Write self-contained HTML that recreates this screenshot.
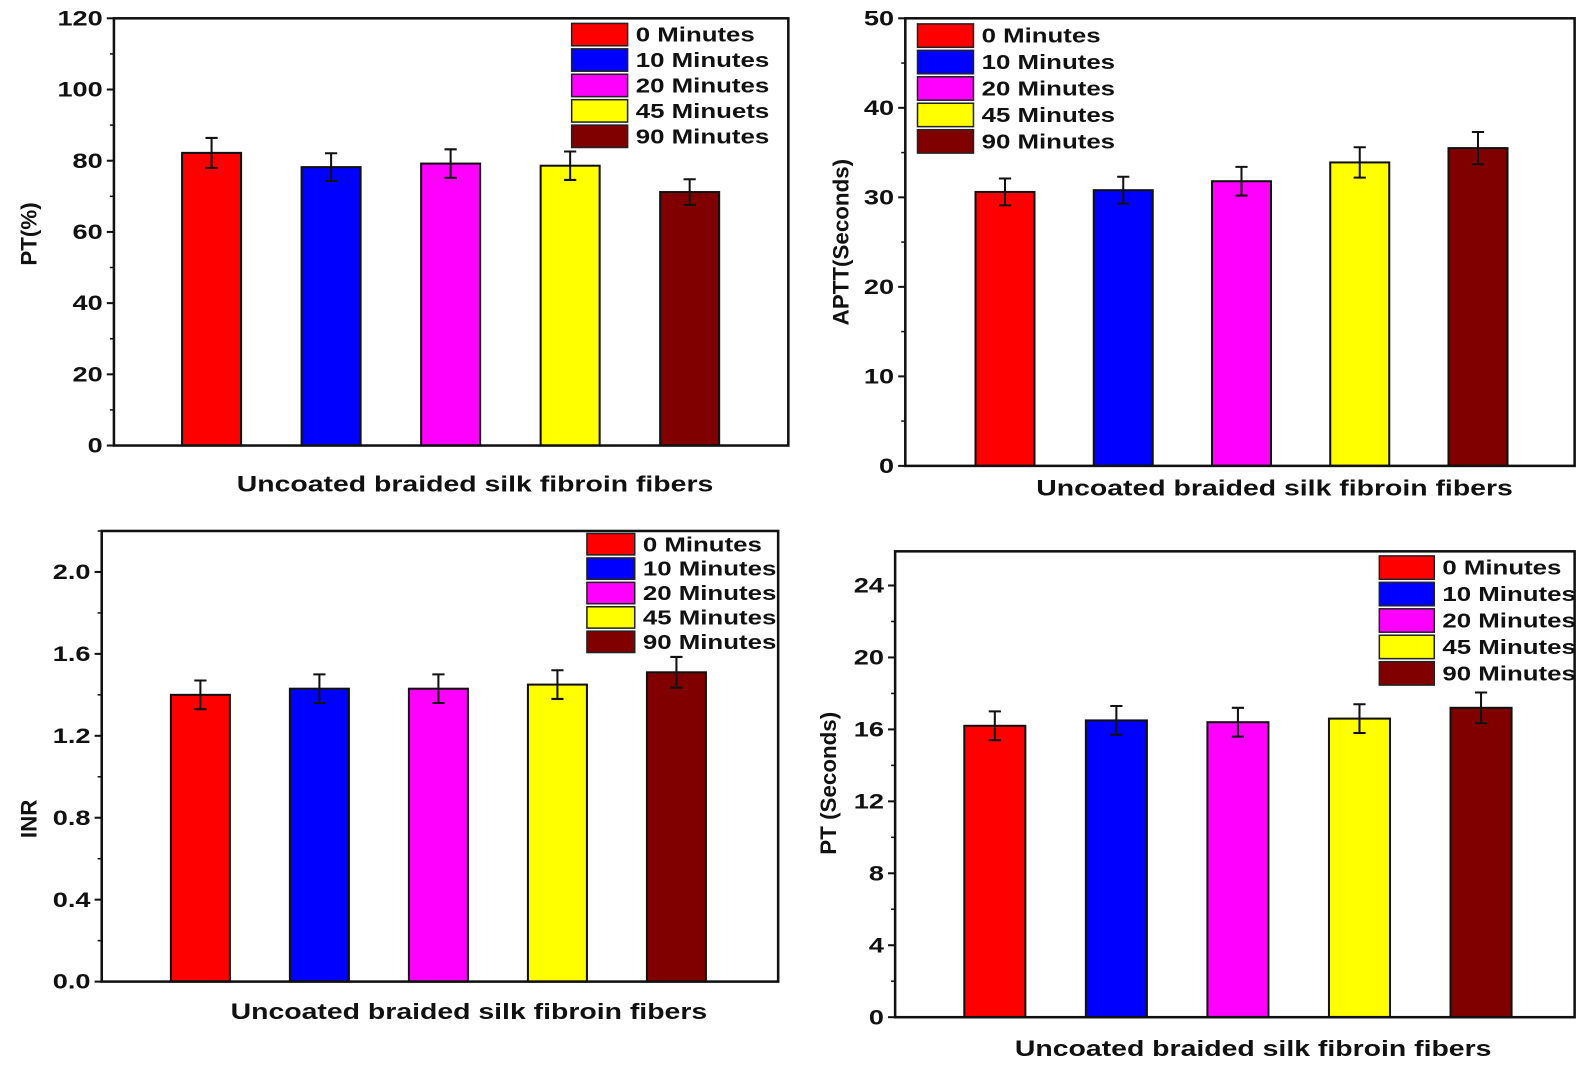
<!DOCTYPE html>
<html><head><meta charset="utf-8">
<style>
html,body{margin:0;padding:0;background:#fff;}
svg{display:block;font-family:"Liberation Sans",Arial,sans-serif;font-weight:bold;}
</style></head>
<body>
<svg id="fig" width="1595" height="1072" viewBox="0 0 1595 1072"><g id="root" transform="scale(1.0172)"></g></svg>
<script>
const categories = ["0 Minutes","10 Minutes","20 Minutes","45 Minutes","90 Minutes"];
const legendLabelsA = ["0 Minutes","10 Minutes","20 Minutes","45 Minuets","90 Minutes"];
const legendLabelsD = ["0 Minutes","10 Minutes","20 Minutes","45 Minutes","90 Minutes"];
const colors = ["#ff0000","#0000ff","#ff00ff","#ffff00","#800000"];
const ptPercentValues = [82.2, 78.2, 79.2, 78.6, 71.2];
const ptPercentErrors = [4.2, 3.9, 4.0, 4.0, 3.6];
const ptPercentTicks = [0,20,40,60,80,100,120];
const apttValues = [30.6, 30.8, 31.8, 33.9, 35.5];
const apttErrors = [1.5, 1.5, 1.6, 1.7, 1.8];
const apttTicks = [0,10,20,30,40,50];
const inrValues = [1.40, 1.43, 1.43, 1.45, 1.51];
const inrErrors = [0.07, 0.07, 0.07, 0.07, 0.075];
const inrTicks = ["0.0","0.4","0.8","1.2","1.6","2.0"];
const ptSecValues = [16.2, 16.5, 16.4, 16.6, 17.2];
const ptSecErrors = [0.8, 0.8, 0.8, 0.8, 0.85];
const ptSecTicks = [0,4,8,12,16,20,24];

const NS="http://www.w3.org/2000/svg";
const root=document.getElementById('root');
const stretchList=[];
function el(tag,attrs,parent){const e=document.createElementNS(NS,tag);for(const k in attrs)e.setAttribute(k,attrs[k]);(parent||root).appendChild(e);return e;}

function drawChart(cfg){
  const g=el('g',{});
  
  
  const {x0,x1,y0,y1,ymin,ymax}=cfg;
  const sy=v=>y0-(v-ymin)/(ymax-ymin)*(y0-y1);
  const n=cfg.values.length;
  const sx=i=>cfg.firstX+i*(cfg.lastX-cfg.firstX)/(n-1);
  cfg.values.forEach((v,i)=>{
    const b=el('rect',{x:sx(i)-cfg.bw/2,y:sy(v),width:cfg.bw,height:y0-sy(v),fill:colors[i],stroke:'#111','stroke-width':2},g);
    
    
    const e=cfg.errors[i];
    const eb=el('path',{d:`M${sx(i)} ${sy(v+e)}V${sy(v-e)}M${sx(i)-6} ${sy(v+e)}h12M${sx(i)-6} ${sy(v-e)}h12`,stroke:'#111','stroke-width':2,fill:'none'},g);
    
    
  });
  const fr=el('rect',{x:x0,y:y1,width:x1-x0,height:y0-y1,fill:'none',stroke:'#111','stroke-width':2.5},g);
  
  
  const ticks=cfg.ticks.map(Number);
  const step=ticks[1]-ticks[0];
  for(let k=0;k<ticks.length;k++){
    const t=ticks[k];const y=sy(t);
    el('line',{x1:x0-7,x2:x0,y1:y,y2:y,stroke:'#111','stroke-width':2},g);
    const tl=el('text',{x:x0-11,y:y+7,'text-anchor':'end','font-size':21,fill:'#111'},g);
    tl.textContent=cfg.ticks[k];
    
    
    stretchList.push(tl);
    const m=t+step/2;
    if(m<=ymax){el('line',{x1:x0-4,x2:x0,y1:sy(m),y2:sy(m),stroke:'#111','stroke-width':1.5},g);}
  }
  const yt=el('text',{x:cfg.ylx,y:cfg.yly,'text-anchor':'middle','font-size':22,fill:'#111',transform:`rotate(-90 ${cfg.ylx} ${cfg.yly})`},g);
  yt.textContent=cfg.ylabel;
  
  
  const xt=el('text',{x:cfg.xlx,y:cfg.xly,'text-anchor':'middle','font-size':22,fill:'#111'},g);
  xt.textContent='Uncoated braided silk fibroin fibers';
  
  
  stretchList.push(xt);
  cfg.legend.forEach((lab,i)=>{
    const ry=cfg.ly+i*cfg.lstep;
    const sw=el('rect',{x:cfg.lx,y:ry-cfg.lh/2,width:cfg.lw,height:cfg.lh,fill:colors[i],stroke:'#222','stroke-width':1.5},g);
    
    
    const lt=el('text',{x:cfg.lx+cfg.lw+8,y:ry+7,'font-size':20,fill:'#111'},g);
    lt.textContent=lab;
    
    
    stretchList.push(lt);
  });
}

drawChart({name:'pt-percent-chart',x0:112,x1:775,y0:438,y1:18,ymin:0,ymax:120,values:ptPercentValues,errors:ptPercentErrors,ticks:ptPercentTicks,
  firstX:208,lastX:678,bw:58,ylabel:'PT(%)',ylx:36,yly:230,xlx:467,xly:483,legend:legendLabelsA,lx:562,ly:34,lstep:25,lw:55,lh:22});
drawChart({name:'aptt-chart',x0:890,x1:1548,y0:458,y1:18,ymin:0,ymax:50,values:apttValues,errors:apttErrors,ticks:apttTicks,
  firstX:988,lastX:1453,bw:58,ylabel:'APTT(Seconds)',ylx:834,yly:238,xlx:1253,xly:487,legend:legendLabelsD,lx:902,ly:35,lstep:26,lw:55,lh:23});
drawChart({name:'inr-chart',x0:100,x1:765,y0:965,y1:522,ymin:0,ymax:2.2,values:inrValues,errors:inrErrors,ticks:inrTicks,
  firstX:197,lastX:665,bw:58,ylabel:'INR',ylx:36,yly:805,xlx:461,xly:1002,legend:legendLabelsD,lx:577,ly:535,lstep:24,lw:47,lh:21});
drawChart({name:'pt-seconds-chart',x0:880,x1:1548,y0:1000,y1:542,ymin:0,ymax:25.9,values:ptSecValues,errors:ptSecErrors,ticks:ptSecTicks,
  firstX:978,lastX:1456,bw:60,ylabel:'PT (Seconds)',ylx:822,yly:770,xlx:1232,xly:1038,legend:legendLabelsD,lx:1356,ly:558,lstep:26,lw:54,lh:23});

stretchList.forEach(t=>{
  const w=t.getComputedTextLength();
  t.setAttribute('textLength',(w*1.27).toFixed(1));
  t.setAttribute('lengthAdjust','spacingAndGlyphs');
});
</script>
</body></html>
